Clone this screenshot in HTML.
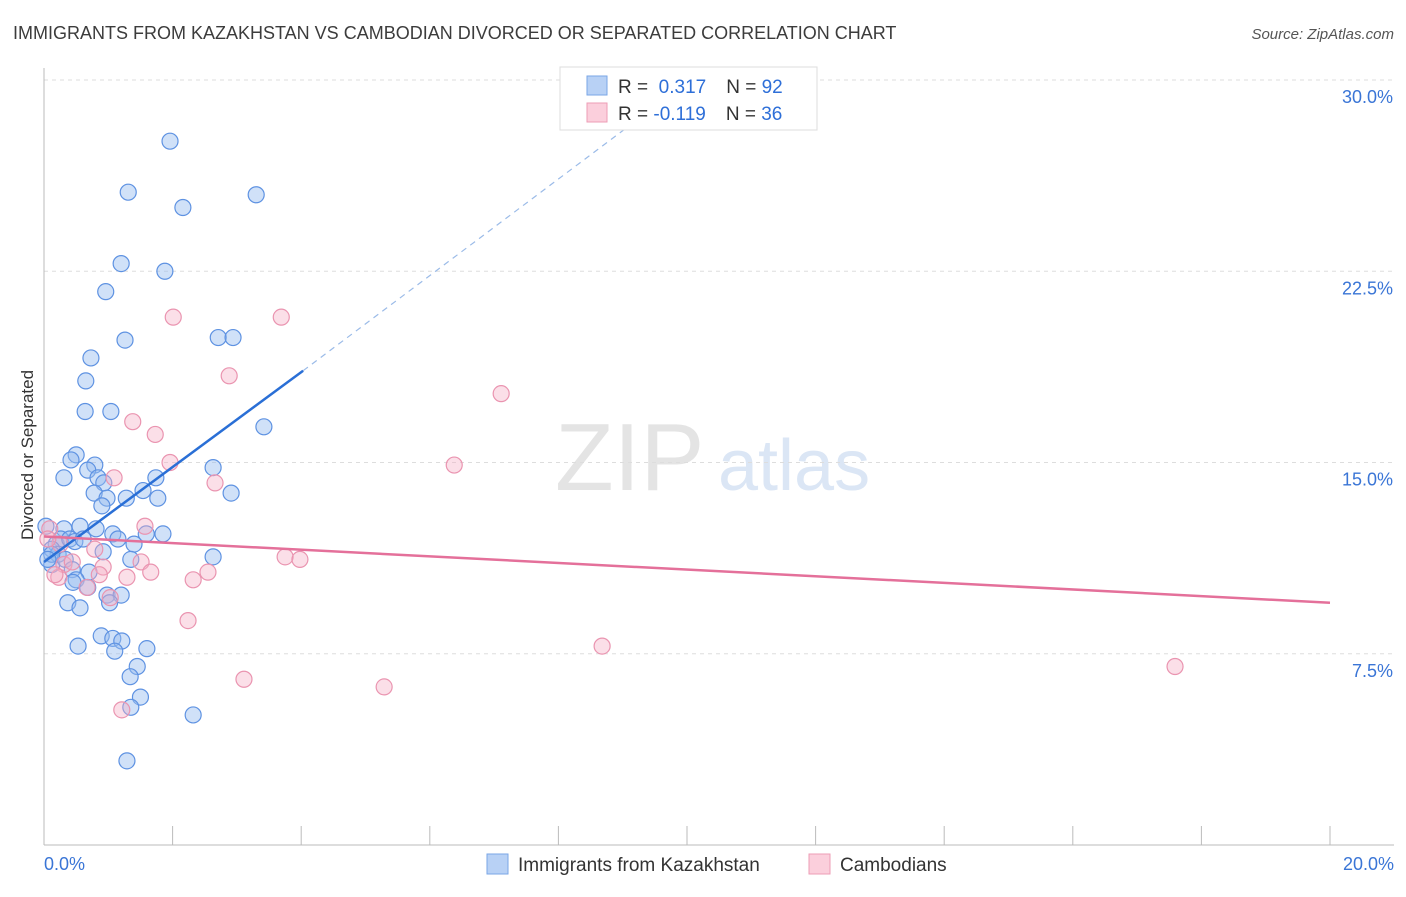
<!DOCTYPE html>
<html><head><meta charset="utf-8"><style>
body{margin:0;background:#fff;font-family:"Liberation Sans",sans-serif}
svg text{font-family:"Liberation Sans",sans-serif}
</style></head><body>
<svg width="1406" height="892" xmlns="http://www.w3.org/2000/svg" id="c">
<text x="13" y="39" font-size="18" fill="#3c3c3c">IMMIGRANTS FROM KAZAKHSTAN VS CAMBODIAN DIVORCED OR SEPARATED CORRELATION CHART</text>
<text x="1394" y="39" font-size="15" fill="#555" text-anchor="end" font-style="italic">Source: ZipAtlas.com</text>
<text x="555" y="490" font-size="96" fill="#e4e4e4" font-family="Liberation Serif">ZIP</text>
<text x="718" y="490" font-size="72" fill="#dbe6f5">atlas</text>
<text transform="translate(33,455) rotate(-90)" font-size="17" fill="#333" text-anchor="middle">Divorced or Separated</text>
<g id="grid"></g><g id="axes"></g><g id="pts"></g><g id="trend"></g>
<g>
<rect x="560" y="67" width="257" height="63" fill="#fff" stroke="#ddd"/>
<rect x="587" y="76" width="20" height="19" fill="#b8d1f5" stroke="#7aa6e6"/>
<rect x="587" y="103" width="20" height="19" fill="#fbcfdc" stroke="#ee9cb6"/>
<text x="618" y="93" font-size="19" fill="#333">R = <tspan fill="#2e6fd8">&#160;0.317</tspan><tspan dx="20">N = </tspan><tspan fill="#2e6fd8">92</tspan></text>
<text x="618" y="120" font-size="19" fill="#333">R = <tspan fill="#2e6fd8">-0.119</tspan><tspan dx="20">N = </tspan><tspan fill="#2e6fd8">36</tspan></text>
</g>
<g>
<rect x="487" y="854" width="21" height="20" fill="#b8d1f5" stroke="#7aa6e6"/>
<text x="518" y="871" font-size="19" fill="#333">Immigrants from Kazakhstan</text>
<rect x="809" y="854" width="21" height="20" fill="#fbcfdc" stroke="#ee9cb6"/>
<text x="840" y="871" font-size="19" fill="#333">Cambodians</text>
</g>
</svg>
<script>
const yTicks=[7.5,15,22.5,30];
const yTickLabels=["7.5%","15.0%","22.5%","30.0%"];
const xTickLabels=["0.0%","20.0%"];
const blueX=[1.96,1.31,2.16,3.30,1.20,1.88,0.96,1.26,2.71,2.94,0.73,0.65,0.64,1.04,3.42,0.50,0.42,0.79,0.31,0.68,0.84,0.93,0.78,0.98,1.28,1.54,1.74,2.63,2.91,1.77,0.90,0.56,0.81,0.31,0.26,0.19,0.12,0.03,0.40,0.48,0.61,1.07,1.15,1.59,1.85,1.40,0.12,0.22,0.33,0.44,0.70,0.92,1.35,2.63,0.50,0.45,0.68,0.98,1.20,1.02,0.37,0.56,0.53,0.89,1.07,1.21,1.10,1.60,1.45,1.34,1.50,1.35,2.32,1.29,0.12,0.06];
const blueY=[27.6,25.6,25.0,25.5,22.8,22.5,21.7,19.8,19.9,19.9,19.1,18.2,17.0,17.0,16.4,15.3,15.1,14.9,14.4,14.7,14.4,14.2,13.8,13.6,13.6,13.9,14.4,14.8,13.8,13.6,13.3,12.5,12.4,12.4,12.0,11.8,11.6,12.5,12.0,11.9,12.0,12.2,12.0,12.2,12.2,11.8,11.0,11.4,11.2,10.8,10.7,11.5,11.2,11.3,10.4,10.3,10.1,9.8,9.8,9.5,9.5,9.3,7.8,8.2,8.1,8.0,7.6,7.7,7.0,6.6,5.8,5.4,5.1,3.3,11.4,11.2];
const pinkX=[2.01,3.69,2.88,7.11,1.38,1.73,1.96,6.38,1.09,2.66,1.57,0.09,0.25,0.79,3.75,3.98,0.31,0.92,1.51,0.44,2.55,1.66,1.29,0.86,2.32,0.23,0.17,0.67,1.03,2.24,8.68,17.59,3.11,5.29,1.21,0.06];
const pinkY=[20.7,20.7,18.4,17.7,16.6,16.1,15.0,14.9,14.4,14.2,12.5,12.4,11.8,11.6,11.3,11.2,11.0,10.9,11.1,11.1,10.7,10.7,10.5,10.6,10.4,10.5,10.6,10.1,9.7,8.8,7.8,7.0,6.5,6.2,5.3,12.0];
const blueTrend=[[0,11.1],[4.03,18.6]];
const blueTrendDash=[[4.03,18.6],[9.1,28.2]];
const pinkTrend=[[0,12.1],[20,9.5]];
const X=v=>44+v/20*1286, Y=v=>845-v/30*765;
const NS="http://www.w3.org/2000/svg";
function mk(g,t,a){const e=document.createElementNS(NS,t);for(const k in a)e.setAttribute(k,a[k]);document.getElementById(g).appendChild(e);return e;}
yTicks.forEach((t,i)=>{
 const l=mk('grid','line',{x1:44,x2:1394,y1:Y(t),y2:Y(t),stroke:'#ddd','stroke-dasharray':'4,4'});
 
 
 const tx=mk('grid','text',{x:1393,y:Y(t)+23,'font-size':18,fill:'#3a75d6','text-anchor':'end'});
 tx.textContent=yTickLabels[i];
 
 
});
let a=mk('axes','line',{x1:44,x2:44,y1:68,y2:845,stroke:'#bbb'});


a=mk('axes','line',{x1:44,x2:1394,y1:845,y2:845,stroke:'#bbb'});


for(let i=1;i<=10;i++){const t=mk('axes','line',{x1:X(i*2),x2:X(i*2),y1:826,y2:845,stroke:'#bbb'});
 
 }
[[0,'start',44],[20,'end',1394]].forEach((d,i)=>{const t=mk('axes','text',{x:d[2],y:870,'font-size':18,fill:'#3a75d6','text-anchor':d[1]});t.textContent=xTickLabels[i];
 
 });
blueX.forEach((x,i)=>{const c=mk('pts','circle',{cx:X(x),cy:Y(blueY[i]),r:8,fill:'rgba(150,188,240,0.45)',stroke:'#5e92e2','stroke-width':1.2});
 
 });
pinkX.forEach((x,i)=>{const c=mk('pts','circle',{cx:X(x),cy:Y(pinkY[i]),r:8,fill:'rgba(245,175,198,0.4)',stroke:'#ea94b0','stroke-width':1.2});
 
 });
let t=mk('trend','line',{x1:X(blueTrend[0][0]),y1:Y(blueTrend[0][1]),x2:X(blueTrend[1][0]),y2:Y(blueTrend[1][1]),stroke:'#2a6fd6','stroke-width':2.5});


t=mk('trend','line',{x1:X(blueTrendDash[0][0]),y1:Y(blueTrendDash[0][1]),x2:X(blueTrendDash[1][0]),y2:Y(blueTrendDash[1][1]),stroke:'#9bbbe8','stroke-width':1.2,'stroke-dasharray':'6,5'});


t=mk('trend','line',{x1:X(pinkTrend[0][0]),y1:Y(pinkTrend[0][1]),x2:X(pinkTrend[1][0]),y2:Y(pinkTrend[1][1]),stroke:'#e4709a','stroke-width':2.5});


</script>
</body></html>
